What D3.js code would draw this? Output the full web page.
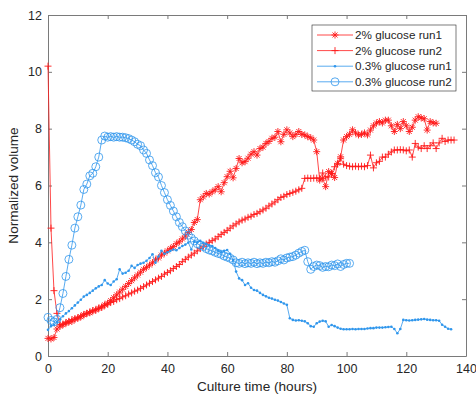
<!DOCTYPE html>
<html>
<head>
<meta charset="utf-8">
<script src="https://cdn.jsdelivr.net/npm/d3@7"></script>
<style>
  body { margin: 0; background: #fff; }
  text { font-family: "Liberation Sans", Arial, sans-serif; fill: #262626; }
</style>
</head>
<body>
<script>
// Chart size
const width = 476;
const height = 396;
const margin = { top: 15, right: 10, bottom: 40, left: 48 };

// Values, one sample per hour starting at 0 h
const glucose2Run1 = [
  0.62, 0.6, 0.65, 0.95, 1.05, 1.1, 1.15, 1.2, 1.22, 1.3,
  1.33, 1.38, 1.45, 1.5, 1.52, 1.58, 1.62, 1.68, 1.72, 1.8,
  1.86, 1.95, 2.05, 2.15, 2.25, 2.35, 2.45, 2.55, 2.65, 2.75,
  2.85, 2.95, 3.05, 3.12, 3.2, 3.28, 3.38, 3.45, 3.55, 3.62,
  3.7, 3.78, 3.85, 3.95, 4.02, 4.12, 4.22, 4.35, 4.45, 4.7,
  4.8, 5.5, 5.6, 5.72, 5.7, 5.78, 5.85, 5.96, 5.78, 6.1,
  6.31, 6.5, 6.27, 6.6, 6.95, 6.8, 6.84, 6.96, 7.1, 7.19,
  7.07, 7.3, 7.35, 7.48, 7.55, 7.66, 7.7, 7.9, 7.54, 7.8,
  7.96, 7.85, 7.72, 7.8, 7.9, 7.8, 7.78, 7.72, 7.68, 7.6,
  7.19, 6.19, 6.25, 5.96, 6.49, 6.43, 6.28, 6.78, 7.01, 7.6,
  7.72, 7.8, 7.96, 7.85, 7.78, 7.8, 7.85, 7.78, 7.95, 8.1,
  8.2, 8.25, 8.2, 8.3, 8.3, 8.1, 7.9, 8.15, 8.0, 8.25,
  8.1, 7.9, 8.05, 8.3, 8.42, 8.38, 8.35, 7.95, 8.25, 8.2,
  8.19
];

const glucose2Run2 = [
  10.2, 4.5, 2.3, 1.5, 1.1, 1.12, 1.18, 1.22, 1.28, 1.3,
  1.35, 1.4, 1.45, 1.5, 1.55, 1.6, 1.62, 1.68, 1.72, 1.78,
  1.82, 1.88, 1.92, 1.98, 2.02, 2.08, 2.12, 2.18, 2.22, 2.28,
  2.32, 2.38, 2.44, 2.5, 2.56, 2.62, 2.68, 2.74, 2.8, 2.88,
  2.94, 3.0, 3.08, 3.15, 3.22, 3.32, 3.4, 3.48, 3.55, 3.62,
  3.7, 3.78, 3.86, 3.94, 4.0, 4.06, 4.12, 4.2, 4.28, 4.35,
  4.42, 4.5, 4.58, 4.65, 4.72, 4.78, 4.82, 4.88, 4.92, 4.98,
  5.02, 5.08, 5.14, 5.2, 5.28, 5.35, 5.42, 5.5, 5.58, 5.62,
  5.68, 5.72, 5.76, 5.8, 5.85, 5.9, 6.25, 6.26, 6.25, 6.26,
  6.26, 6.26, 6.44, 6.3, 6.3, 6.42, 6.66, 6.75, 6.96, 6.75,
  6.7, 6.68, 6.66, 6.68, 6.66, 6.68, 6.66, 6.7, 7.07, 6.62,
  6.8, 6.85, 7.0, 7.0, 7.1, 7.18, 7.25, 7.25, 7.26, 7.25,
  7.22, 7.25, 7.0, 7.48, 7.35, 7.3, 7.4, 7.3, 7.4, 7.5,
  7.3, 7.5, 7.66, 7.55, 7.6, 7.6, 7.6
];

const glucose03Run1 = [
  0.92, 1.05, 1.1, 1.2, 1.29, 1.4, 1.5, 1.58, 1.68, 1.78,
  1.88, 1.98, 2.09, 2.15, 2.22, 2.3, 2.38, 2.45, 2.5, 2.67,
  2.55, 2.5, 2.62, 2.7, 3.05, 2.9, 2.93, 3.0, 3.17, 3.1,
  3.2, 3.25, 3.28, 3.35, 3.45, 3.58, 3.28, 3.5, 3.7, 3.6,
  3.65, 3.7, 3.75, 3.72, 3.8, 3.87, 3.92, 3.99, 3.75, 4.02,
  4.0, 4.05, 3.98, 3.95, 3.9, 3.87, 3.8, 3.7, 3.65, 3.7,
  3.73, 3.6, 3.38, 2.97, 2.73, 2.67, 2.5, 2.56, 2.4, 2.32,
  2.3, 2.22, 2.15, 2.1, 2.05, 2.02, 1.98, 1.95, 1.9, 1.85,
  1.8, 1.33, 1.27, 1.25, 1.26, 1.24, 1.22, 1.15, 1.05, 1.03,
  1.15, 1.21, 1.24, 1.22, 1.03, 1.09, 1.05, 1.0, 0.96, 0.94,
  0.94, 0.94, 0.95, 0.94, 0.95, 0.95, 0.95, 0.97, 0.98, 0.98,
  1.0, 1.0, 1.0, 1.01, 1.02, 1.03, 0.95, 0.8, 0.95, 1.27,
  1.26, 1.25, 1.26, 1.27, 1.28, 1.29, 1.3, 1.28, 1.27, 1.26,
  1.26, 1.24, 1.1, 1.03, 0.96, 0.94
];

const glucose03Run2 = [
  1.36, 1.25, 1.2, 1.29, 1.7, 2.2, 2.8, 3.4, 3.9, 4.5,
  4.9, 5.31, 5.86, 6.05, 6.34, 6.43, 6.66, 7.0, 7.6, 7.74,
  7.7, 7.72, 7.7, 7.72, 7.7, 7.7, 7.68, 7.65, 7.6, 7.54,
  7.45, 7.4, 7.25, 7.13, 6.9, 6.7, 6.45, 6.3, 6.0, 5.75,
  5.5, 5.3, 5.1, 4.9, 4.7, 4.55, 4.4, 4.25, 4.15, 4.05,
  3.95, 3.9, 3.85, 3.78, 3.73, 3.7, 3.65, 3.61, 3.58, 3.52,
  3.48, 3.44, 3.38, 3.28, 3.26, 3.3, 3.25, 3.28, 3.26, 3.3,
  3.25, 3.28, 3.26, 3.3, 3.28, 3.32, 3.3, 3.35, 3.42, 3.38,
  3.45, 3.48, 3.5, 3.55, 3.62, 3.68, 3.72, 3.32, 3.05, 3.15,
  3.2, 3.18, 3.12, 3.15, 3.14, 3.2, 3.18, 3.24, 3.15, 3.22,
  3.26, 3.26
];

const seriesNames = [
  "2% glucose run1",
  "2% glucose run2",
  "0.3% glucose run1",
  "0.3% glucose run2"
];
const xTicks = [0, 20, 40, 60, 80, 100, 120, 140];
const yTicks = [0, 2, 4, 6, 8, 10, 12];

const red = "#ff1a1a";
const blue = "#2f96ec";

// marker shapes, drawn around 0,0
const markerPaths = {
  asterisk: "M-3.5,0H3.5M0,-3.5V3.5M-2.5,-2.5L2.5,2.5M-2.5,2.5L2.5,-2.5",
  plus: "M-3.5,0H3.5M0,-3.5V3.5",
};

const series = [
  { name: seriesNames[0], values: glucose2Run1, color: red, marker: "asterisk" },
  { name: seriesNames[1], values: glucose2Run2, color: red, marker: "plus" },
  { name: seriesNames[2], values: glucose03Run1, color: blue, marker: "dot" },
  { name: seriesNames[3], values: glucose03Run2, color: blue, marker: "circle" },
];

const svg = d3
  .select("body")
  .append("svg")
  .attr("width", width)
  .attr("height", height);

const x = d3.scaleLinear().domain([0, 140]).range([margin.left, width - margin.right]);
const y = d3.scaleLinear().domain([0, 12]).range([height - margin.bottom, margin.top]);

// Axis box with inward ticks on all four sides
const axisColor = "#7a7a7a";
function styleAxis(g) {
  g.select(".domain").attr("stroke", axisColor);
  g.selectAll(".tick line").attr("stroke", axisColor);
  g.selectAll(".tick text").attr("fill", "#262626").style("font-size", "12.5px");
}

svg.append("g")
  .attr("transform", `translate(0,${y(0)})`)
  .call(d3.axisBottom(x).tickValues(xTicks).tickSizeInner(-4).tickSizeOuter(0).tickPadding(8))
  .call(styleAxis);

svg.append("g")
  .attr("transform", `translate(0,${y(12)})`)
  .call(d3.axisTop(x).tickValues(xTicks).tickSizeInner(-4).tickSizeOuter(0).tickFormat(""))
  .call(styleAxis);

svg.append("g")
  .attr("transform", `translate(${x(0)},0)`)
  .call(d3.axisLeft(y).tickValues(yTicks).tickSizeInner(-4).tickSizeOuter(0).tickPadding(6))
  .call(styleAxis);

svg.append("g")
  .attr("transform", `translate(${x(140)},0)`)
  .call(d3.axisRight(y).tickValues(yTicks).tickSizeInner(-4).tickSizeOuter(0).tickFormat(""))
  .call(styleAxis);

// Axis titles
svg.append("text")
  .attr("x", (x(0) + x(140)) / 2)
  .attr("y", height - 5)
  .attr("text-anchor", "middle")
  .style("font-size", "13.6px")
  .text("Culture time (hours)");

svg.append("text")
  .attr("transform", `translate(18,${(y(0) + y(12)) / 2}) rotate(-90)`)
  .attr("text-anchor", "middle")
  .style("font-size", "13.6px")
  .text("Normalized volume");

// draw one marker into a selection
function drawMarker(sel, kind, color) {
  if (kind === "dot") {
    sel.append("circle").attr("r", 1.3).attr("fill", color);
  } else if (kind === "circle") {
    sel.append("circle").attr("r", 4).attr("fill", "none").attr("stroke", color).attr("stroke-width", 0.8);
  } else {
    sel.append("path").attr("d", markerPaths[kind]).attr("fill", "none").attr("stroke", color).attr("stroke-width", 0.9);
  }
}

const line = d3.line()
  .x((d, i) => x(i))
  .y((d) => y(d));

const plot = svg.append("g");

series.forEach((s) => {
  const g = plot.append("g");
  g.append("path")
    .datum(s.values)
    .attr("fill", "none")
    .attr("stroke", s.color)
    .attr("stroke-width", 0.8)
    .attr("d", line);

  g.selectAll(".mark")
    .data(s.values)
    .enter()
    .append("g")
    .attr("class", "mark")
    .attr("transform", (d, i) => `translate(${x(i)},${y(d)})`)
    .each(function () {
      drawMarker(d3.select(this), s.marker, s.color);
    });
});

// Legend
const legend = svg.append("g").attr("transform", "translate(312,25)");
legend.append("rect")
  .attr("width", 144)
  .attr("height", 66)
  .attr("fill", "#fff")
  .attr("stroke", "#262626")
  .attr("stroke-width", 0.6);

series.forEach((s, i) => {
  const row = legend.append("g").attr("transform", `translate(0,${10 + i * 15.6})`);
  row.append("line")
    .attr("x1", 5)
    .attr("x2", 41)
    .attr("stroke", s.color)
    .attr("stroke-width", 0.8);
  drawMarker(row.append("g").attr("transform", "translate(23,0)"), s.marker, s.color);
  row.append("text")
    .attr("x", 43)
    .attr("y", 4)
    .style("font-size", "11.7px")
    .text(s.name);
});
</script>
</body>
</html>
